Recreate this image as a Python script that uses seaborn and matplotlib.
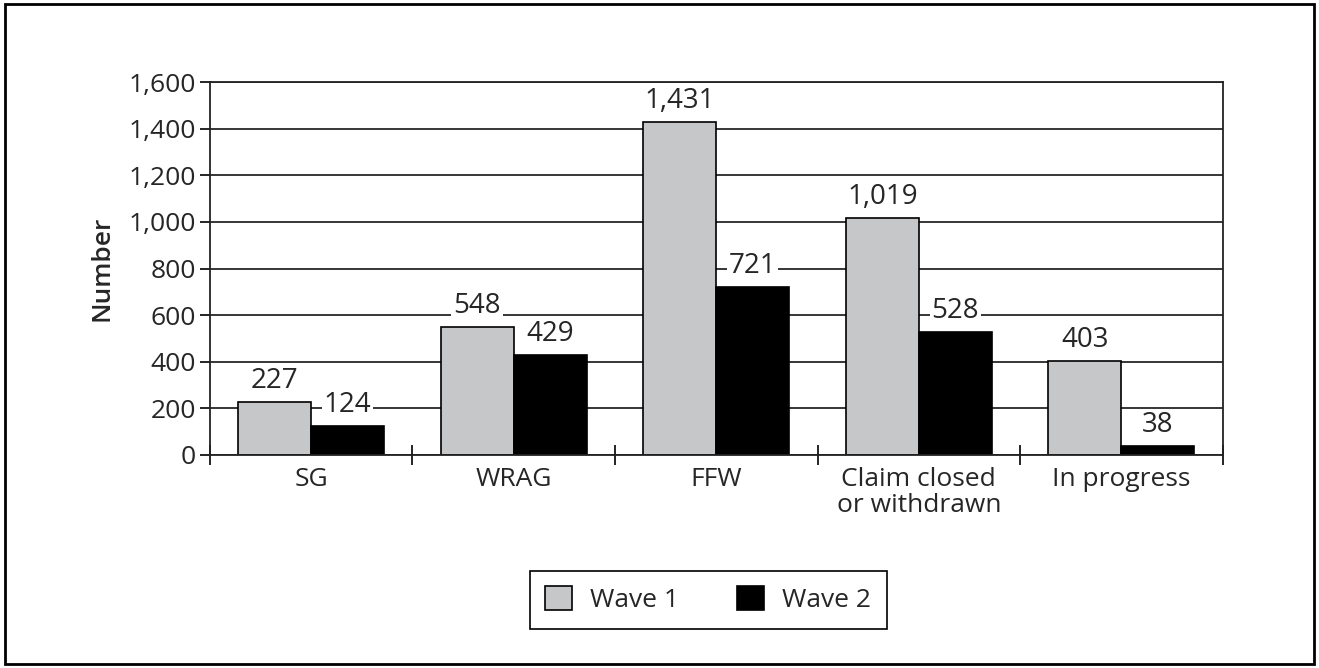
import numpy as np
import pandas as pd
import matplotlib
matplotlib.use("Agg")
import matplotlib.pyplot as plt
import seaborn as sns
from matplotlib.patches import Rectangle
from matplotlib.ticker import FuncFormatter, FixedLocator

categories = ["SG", "WRAG", "FFW", "Claim closed\nor withdrawn", "In progress"]
wave1 = [227, 548, 1431, 1019, 403]
wave2 = [124, 429, 721, 528, 38]
series = ["Wave 1", "Wave 2"]
colors = ["#c6c7c9", "#000000"]

df = pd.DataFrame({
    "Category": categories * 2,
    "Number": wave1 + wave2,
    "Wave": [series[0]] * len(categories) + [series[1]] * len(categories),
})

sns.set_theme(style="white")
plt.rcParams["font.family"] = ["Open Sans", "DejaVu Sans"]

fig = plt.figure(figsize=(13.19, 6.68), dpi=100)
fig.patch.set_facecolor("white")
ax = fig.add_axes([0.159, 0.319, 0.768, 0.558])

sns.barplot(data=df, x="Category", y="Number", hue="Wave", palette=colors,
            width=0.72, edgecolor="black", linewidth=1.2, ax=ax, zorder=3)

ax.set_ylim(0, 1600)
ax.set_xlim(-0.5, len(categories) - 0.5)
ax.set_yticks(np.arange(0, 1601, 200))
ax.yaxis.set_major_formatter(FuncFormatter(lambda v, p: f"{int(v):,}"))
ax.yaxis.grid(True, color="black", linewidth=1.1, zorder=0)
ax.set_axisbelow(True)
for s in ax.spines.values():
    s.set_color("#222222")
    s.set_linewidth(1.3)
    s.set_visible(True)
    s.set_zorder(6)

ax.tick_params(axis="y", direction="out", length=7, width=1.2, color="black",
               labelsize=19, left=True, pad=3)
ax.tick_params(axis="x", which="major", length=0, labelsize=19, pad=9)
for t in ax.get_xticklabels():
    t.set_linespacing(1.05)
ax.xaxis.set_minor_locator(FixedLocator(np.arange(-0.5, len(categories), 1.0)))
ax.tick_params(axis="x", which="minor", direction="inout", length=14, width=1.2,
               color="black", bottom=True)
ax.set_xlabel("")
ax.set_ylabel("Number", fontsize=19, fontweight="semibold", labelpad=10)

for cont in ax.containers:
    ax.bar_label(cont, labels=[f"{int(v):,}" for v in cont.datavalues],
                 padding=5, fontsize=20, zorder=5,
                 bbox=dict(facecolor="white", edgecolor="none", pad=1.5))

ax.legend_.remove()
handles = [Rectangle((0, 0), 1, 1, facecolor=c, edgecolor="black", linewidth=1.2) for c in colors]
leg = fig.legend(handles, series, loc="center", bbox_to_anchor=(0.537, 0.102), ncol=2,
                 fontsize=19, frameon=True, fancybox=False, edgecolor="black",
                 framealpha=1, handlelength=1.0, handleheight=1.0,
                 columnspacing=2.2, handletextpad=0.7, borderpad=0.6)
leg.get_frame().set_linewidth(1.2)

fig.patches.append(Rectangle((0.004, 0.006), 0.992, 0.988, transform=fig.transFigure,
                             fill=False, edgecolor="black", linewidth=2))

fig.savefig("out.png", dpi=100)
